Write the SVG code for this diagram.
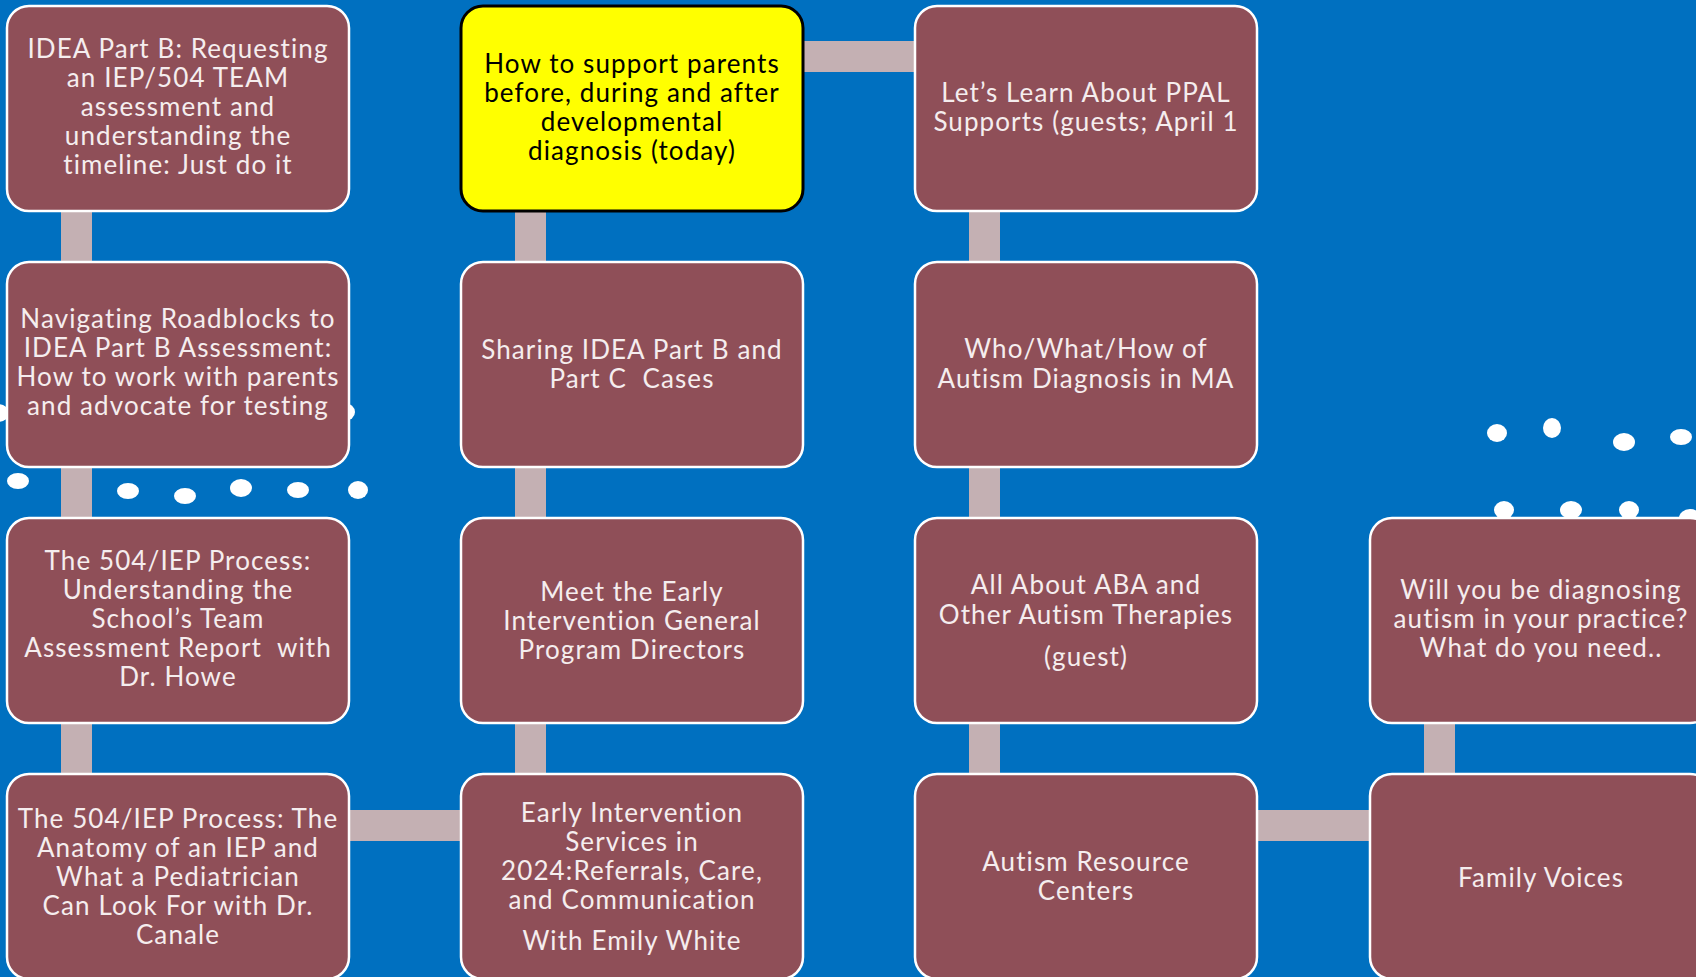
<svg xmlns="http://www.w3.org/2000/svg" width="1696" height="977" viewBox="0 0 1696 977">
<style>
.bg{fill:#0070C0}
.con{fill:#C4B0B3}
.dot{fill:#FFFFFF}
.box{fill:#8F4F58;stroke:#FFFFFF;stroke-width:2.5}
.ybox{fill:#FFFF00;stroke:#000000;stroke-width:3}
.t{font-family:Lato,"Noto Sans",sans-serif;font-size:26px;letter-spacing:1.1px;fill:#F5EDEE;text-anchor:middle}
.ty{font-family:Lato,"Noto Sans",sans-serif;font-size:26px;letter-spacing:1.1px;fill:#000000;text-anchor:middle}
</style>
<rect class="bg" x="0" y="0" width="1696" height="977"/>
<g id="dots">
<ellipse class="dot" cx="-2" cy="413" rx="11" ry="9"/>
<ellipse class="dot" cx="345" cy="412" rx="10" ry="9"/>
<ellipse class="dot" cx="18" cy="481" rx="11" ry="8"/>
<ellipse class="dot" cx="128" cy="491" rx="11" ry="8"/>
<ellipse class="dot" cx="185" cy="496" rx="11" ry="8"/>
<ellipse class="dot" cx="241" cy="488" rx="11" ry="9"/>
<ellipse class="dot" cx="298" cy="490" rx="11" ry="8"/>
<ellipse class="dot" cx="358" cy="490" rx="10" ry="9"/>
<ellipse class="dot" cx="1497" cy="433" rx="10" ry="9"/>
<ellipse class="dot" cx="1552" cy="428" rx="9" ry="10"/>
<ellipse class="dot" cx="1624" cy="442" rx="11" ry="9"/>
<ellipse class="dot" cx="1681" cy="437" rx="11" ry="8"/>
<ellipse class="dot" cx="1504" cy="510" rx="10" ry="9"/>
<ellipse class="dot" cx="1571" cy="510" rx="11" ry="9"/>
<ellipse class="dot" cx="1629" cy="510" rx="10" ry="9"/>
<ellipse class="dot" cx="1690" cy="518" rx="11" ry="9"/>
</g>
<g id="connectors">
<rect class="con" x="61" y="200" width="31" height="75"/>
<rect class="con" x="61" y="455" width="31" height="75"/>
<rect class="con" x="61" y="711" width="31" height="75"/>
<rect class="con" x="515" y="200" width="31" height="75"/>
<rect class="con" x="515" y="455" width="31" height="75"/>
<rect class="con" x="515" y="711" width="31" height="75"/>
<rect class="con" x="969" y="200" width="31" height="75"/>
<rect class="con" x="969" y="455" width="31" height="75"/>
<rect class="con" x="969" y="711" width="31" height="75"/>
<rect class="con" x="1424" y="711" width="31" height="75"/>
<rect class="con" x="790" y="41" width="138" height="31"/>
<rect class="con" x="336" y="810" width="138" height="31"/>
<rect class="con" x="1244" y="810" width="138" height="31"/>
</g>
<g id="n1">
<rect class="box" x="7" y="6" width="342" height="205" rx="22"/>
<text class="t"><tspan x="178" y="58">IDEA Part B: Requesting</tspan><tspan x="178" y="87">an IEP/504 TEAM</tspan><tspan x="178" y="116">assessment and</tspan><tspan x="178" y="145">understanding the</tspan><tspan x="178" y="174">timeline: Just do it</tspan></text>
</g>
<g id="n2">
<rect class="ybox" x="461" y="6" width="342" height="205" rx="22"/>
<text class="ty"><tspan x="632" y="73">How to support parents</tspan><tspan x="632" y="102">before, during and after</tspan><tspan x="632" y="131">developmental</tspan><tspan x="632" y="160">diagnosis (today)</tspan></text>
</g>
<g id="n3">
<rect class="box" x="915" y="6" width="342" height="205" rx="22"/>
<text class="t"><tspan x="1086" y="102">Let’s Learn About PPAL</tspan><tspan x="1086" y="131">Supports (guests; April 1</tspan></text>
</g>
<g id="n4">
<rect class="box" x="7" y="262" width="342" height="205" rx="22"/>
<text class="t"><tspan x="178" y="328">Navigating Roadblocks to</tspan><tspan x="178" y="357">IDEA Part B Assessment:</tspan><tspan x="178" y="386">How to work with parents</tspan><tspan x="178" y="415">and advocate for testing</tspan></text>
</g>
<g id="n5">
<rect class="box" x="461" y="262" width="342" height="205" rx="22"/>
<text class="t" xml:space="preserve"><tspan x="632" y="359">Sharing IDEA Part B and</tspan><tspan x="632" y="388">Part C  Cases</tspan></text>
</g>
<g id="n6">
<rect class="box" x="915" y="262" width="342" height="205" rx="22"/>
<text class="t"><tspan x="1086" y="358">Who/What/How of</tspan><tspan x="1086" y="388">Autism Diagnosis in MA</tspan></text>
</g>
<g id="n7">
<rect class="box" x="7" y="518" width="342" height="205" rx="22"/>
<text class="t" xml:space="preserve"><tspan x="178" y="570">The 504/IEP Process:</tspan><tspan x="178" y="599">Understanding the</tspan><tspan x="178" y="628">School’s Team</tspan><tspan x="178" y="657">Assessment Report  with</tspan><tspan x="178" y="686">Dr. Howe</tspan></text>
</g>
<g id="n8">
<rect class="box" x="461" y="518" width="342" height="205" rx="22"/>
<text class="t"><tspan x="632" y="601">Meet the Early</tspan><tspan x="632" y="630">Intervention General</tspan><tspan x="632" y="659">Program Directors</tspan></text>
</g>
<g id="n9">
<rect class="box" x="915" y="518" width="342" height="205" rx="22"/>
<text class="t"><tspan x="1086" y="594">All About ABA and</tspan><tspan x="1086" y="624">Other Autism Therapies</tspan><tspan x="1086" y="666">(guest)</tspan></text>
</g>
<g id="n10">
<rect class="box" x="1370" y="518" width="342" height="205" rx="22"/>
<text class="t"><tspan x="1541" y="599">Will you be diagnosing</tspan><tspan x="1541" y="628">autism in your practice?</tspan><tspan x="1541" y="657">What do you need..</tspan></text>
</g>
<g id="n11">
<rect class="box" x="7" y="774" width="342" height="205" rx="22"/>
<text class="t"><tspan x="178" y="828">The 504/IEP Process: The</tspan><tspan x="178" y="857">Anatomy of an IEP and</tspan><tspan x="178" y="886">What a Pediatrician</tspan><tspan x="178" y="915">Can Look For with Dr.</tspan><tspan x="178" y="944">Canale</tspan></text>
</g>
<g id="n12">
<rect class="box" x="461" y="774" width="342" height="205" rx="22"/>
<text class="t"><tspan x="632" y="822">Early Intervention</tspan><tspan x="632" y="851">Services in</tspan><tspan x="632" y="880">2024:Referrals, Care,</tspan><tspan x="632" y="909">and Communication</tspan><tspan x="632" y="950">With Emily White</tspan></text>
</g>
<g id="n13">
<rect class="box" x="915" y="774" width="342" height="205" rx="22"/>
<text class="t"><tspan x="1086" y="871">Autism Resource</tspan><tspan x="1086" y="900">Centers</tspan></text>
</g>
<g id="n14">
<rect class="box" x="1370" y="774" width="342" height="205" rx="22"/>
<text class="t"><tspan x="1541" y="887">Family Voices</tspan></text>
</g>
</svg>
